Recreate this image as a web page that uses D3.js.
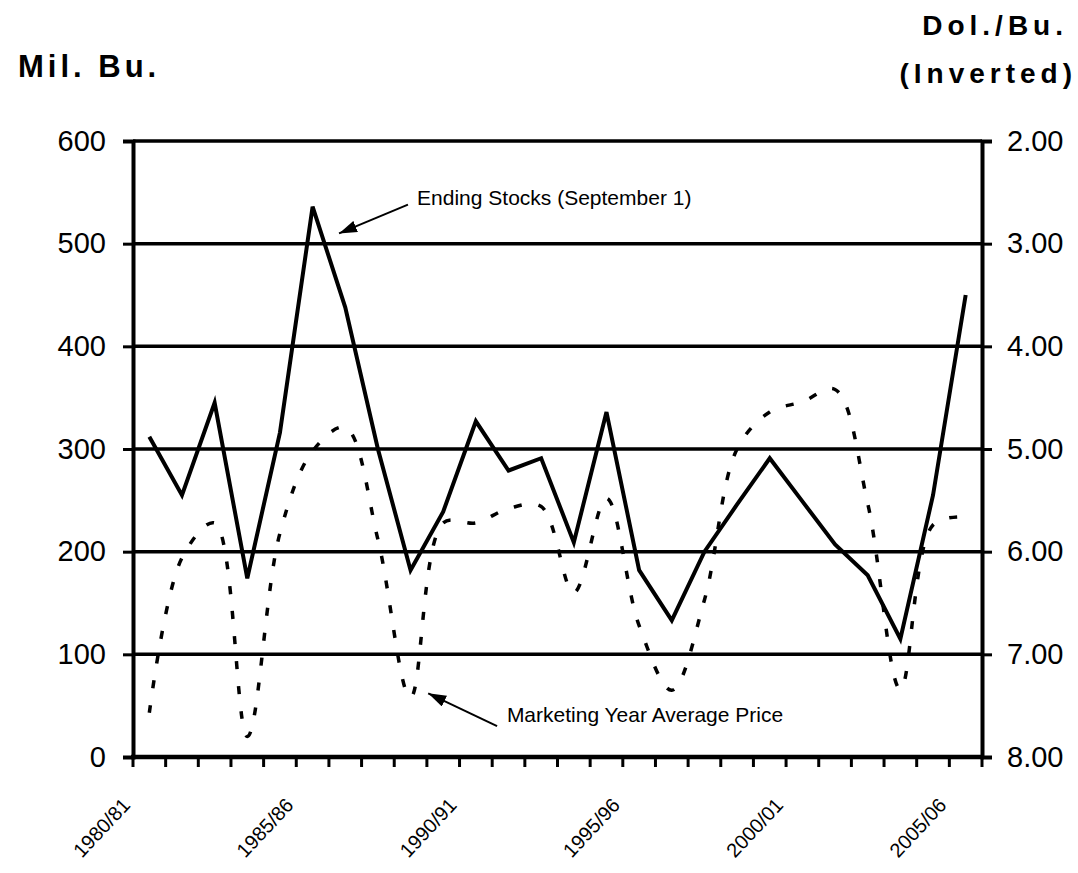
<!DOCTYPE html>
<html>
<head>
<meta charset="utf-8">
<script src="https://cdn.jsdelivr.net/npm/d3@7"></script>
<style>
  body { margin: 0; background: #fff; }
  svg { display: block; font-family: "Liberation Sans", Arial, sans-serif; }
  .axis path, .axis line { stroke: #000; }
</style>
</head>
<body>
<svg id="chart" width="1078" height="873"></svg>
<script>
// marketing years, one category each
const years = ['1980/81', '1981/82', '1982/83', '1983/84', '1984/85', '1985/86', '1986/87',
  '1987/88', '1988/89', '1989/90', '1990/91', '1991/92', '1992/93', '1993/94', '1994/95',
  '1995/96', '1996/97', '1997/98', '1998/99', '1999/00', '2000/01', '2001/02', '2002/03',
  '2003/04', '2004/05', '2005/06'];

// ending stocks, mil. bu. (left axis)
const stocks = [312, 255, 345, 174, 316, 536, 438, 300, 182, 239, 327, 279, 291, 209, 336,
  182, 133, 200, 246, 291, 249, 207, 177, 115, 255, 450];

// marketing year average price, dol./bu. (right axis, inverted)
const prices = [7.57, 6.06, 5.72, 7.80, 5.82, 5.02, 4.79, 5.88, 7.42, 5.72, 5.72, 5.58, 5.56,
  6.40, 5.48, 6.72, 7.35, 6.47, 5.00, 4.64, 4.54, 4.42, 5.53, 7.34, 5.74, 5.66];

const leftTicks = [0, 100, 200, 300, 400, 500, 600];
const rightTicks = [2, 3, 4, 5, 6, 7, 8];
const labelYears = years.filter((d, i) => i % 5 === 0);

const svg = d3.select('#chart');
const x0 = 133, x1 = 982, yTop = 141, yBot = 757;

let xScale = d3.scaleBand().domain(years).range([x0, x1]);
let xIdx = d3.scaleLinear().domain([-0.5, years.length - 0.5]).range([x0, x1]);
let yLeft = d3.scaleLinear().domain([0, 600]).range([yBot, yTop]);
let yRight = d3.scaleLinear().domain([2, 8]).range([yTop, yBot]);

// gridlines
svg.append('g')
   .selectAll('line')
   .data(leftTicks.filter(d => d > 0))
   .join('line')
   .attr('x1', x0).attr('x2', x1)
   .attr('y1', d => yLeft(d)).attr('y2', d => yLeft(d))
   .attr('stroke', '#000').attr('stroke-width', 3.5);

// left axis
let leftAxis = d3.axisLeft(yLeft).tickValues(leftTicks).tickSize(10).tickPadding(17);
svg.append('g')
   .attr('class', 'axis')
   .attr('transform', `translate(${x0},0)`)
   .call(leftAxis)
   .call(g => g.select('.domain').attr('stroke-width', 4))
   .call(g => g.selectAll('.tick line').attr('stroke-width', 3))
   .call(g => g.selectAll('text').attr('font-size', 29).attr('fill', '#000'));

// right axis
let rightAxis = d3.axisRight(yRight).tickValues(rightTicks).tickSize(10).tickFormat(d3.format('.2f')).tickPadding(15);
svg.append('g')
   .attr('class', 'axis')
   .attr('transform', `translate(${x1},0)`)
   .call(rightAxis)
   .call(g => g.select('.domain').attr('stroke-width', 4))
   .call(g => g.selectAll('.tick line').attr('stroke-width', 3))
   .call(g => g.selectAll('text').attr('font-size', 29).attr('fill', '#000'));

// bottom axis: ticks at category boundaries
let bounds = d3.range(years.length + 1);
svg.append('g')
   .selectAll('line')
   .data(bounds)
   .join('line')
   .attr('x1', d => xIdx(d - 0.5)).attr('x2', d => xIdx(d - 0.5))
   .attr('y1', yBot).attr('y2', yBot + 10)
   .attr('stroke', '#000').attr('stroke-width', 3);
svg.append('line')
   .attr('x1', x0 - 2).attr('x2', x1 + 2)
   .attr('y1', yBot).attr('y2', yBot)
   .attr('stroke', '#000').attr('stroke-width', 4.5);

// year labels, every fifth
svg.append('g')
   .selectAll('text')
   .data(labelYears)
   .join('text')
   .attr('transform', d => `translate(${xScale(d) + xScale.bandwidth() / 2 - 18}, 806) rotate(-47)`)
   .attr('text-anchor', 'end')
   .attr('font-size', 20)
   .text(d => d);

// price line (dashed, smoothed)
let priceLine = d3.line()
                  .x((d, i) => xScale(years[i]) + xScale.bandwidth() / 2)
                  .y(d => yRight(d))
                  .curve(d3.curveCatmullRom);
svg.append('path')
   .datum(prices)
   .attr('d', priceLine)
   .attr('fill', 'none')
   .attr('stroke', '#000')
   .attr('stroke-width', 3.5)
   .attr('stroke-dasharray', '8,17');

// stocks line (solid)
let stockLine = d3.line()
                  .x((d, i) => xScale(years[i]) + xScale.bandwidth() / 2)
                  .y(d => yLeft(d));
svg.append('path')
   .datum(stocks)
   .attr('d', stockLine)
   .attr('fill', 'none')
   .attr('stroke', '#000')
   .attr('stroke-width', 4)
   .attr('stroke-linejoin', 'miter');

// annotations with arrows, placed in category / left-axis units
svg.append('defs').append('marker')
   .attr('id', 'arrow')
   .attr('markerUnits', 'userSpaceOnUse')
   .attr('viewBox', '0 0 18 12')
   .attr('refX', 18).attr('refY', 6)
   .attr('markerWidth', 18).attr('markerHeight', 12)
   .attr('orient', 'auto')
   .append('path')
   .attr('d', 'M0,0 L18,6 L0,12 Z')
   .attr('fill', '#000');

const notes = [
  {text: 'Ending Stocks (September 1)', from: [7.92, 538], to: [5.81, 510], at: [8.2, 537.5]},
  {text: 'Marketing Year Average Price', from: [10.65, 30], to: [8.54, 62], at: [10.95, 34]}
];
notes.forEach(n => {
  svg.append('line')
     .attr('x1', xIdx(n.from[0])).attr('y1', yLeft(n.from[1]))
     .attr('x2', xIdx(n.to[0])).attr('y2', yLeft(n.to[1]))
     .attr('stroke', '#000').attr('stroke-width', 2)
     .attr('marker-end', 'url(#arrow)');
  svg.append('text')
     .attr('x', xIdx(n.at[0])).attr('y', yLeft(n.at[1]))
     .attr('font-size', 21)
     .text(n.text);
});

// axis titles
svg.append('text')
   .attr('x', 18).attr('y', 77)
   .attr('font-size', 31).attr('font-weight', 'bold')
   .attr('letter-spacing', 4)
   .text('Mil. Bu.');
svg.append('text')
   .attr('x', 1068).attr('y', 35)
   .attr('text-anchor', 'end')
   .attr('font-size', 28).attr('font-weight', 'bold')
   .attr('letter-spacing', 5)
   .text('Dol./Bu.');
svg.append('text')
   .attr('x', 1077).attr('y', 83)
   .attr('text-anchor', 'end')
   .attr('font-size', 28).attr('font-weight', 'bold')
   .attr('letter-spacing', 5)
   .text('(Inverted)');
</script>
</body>
</html>
